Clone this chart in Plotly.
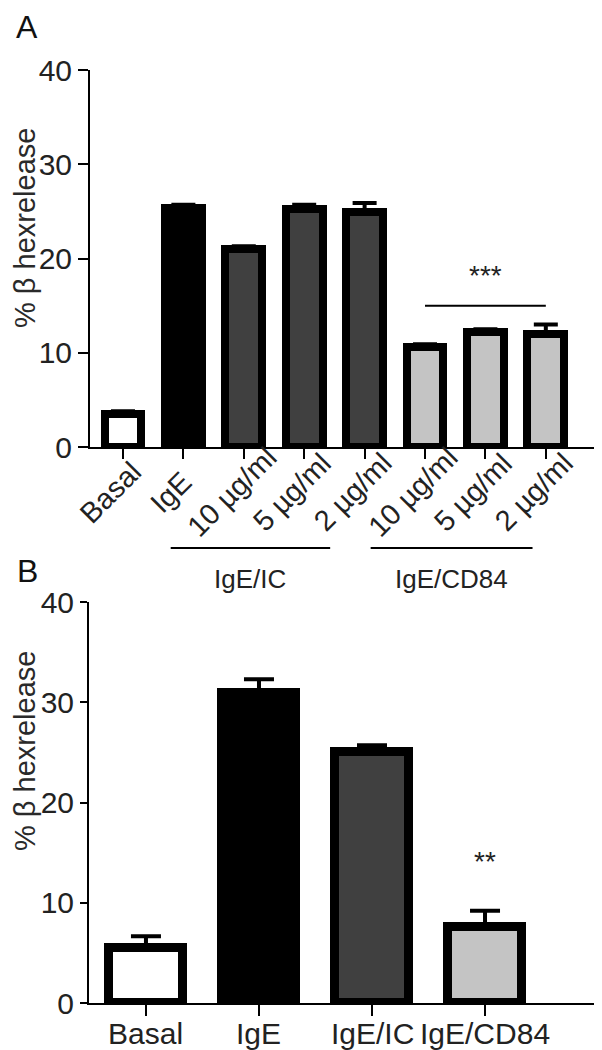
import plotly.graph_objects as go

# ---------------- data ----------------
a_labels = ["Basal", "IgE", "10 µg/ml", "5 µg/ml", "2 µg/ml", "10 µg/ml", "5 µg/ml", "2 µg/ml"]
a_values = [3.5, 25.4, 21.0, 25.2, 24.9, 10.6, 12.2, 12.0]
a_errors = [0.3, 0.3, 0.3, 0.5, 1.0, 0.3, 0.3, 1.0]
a_colors = ["#ffffff", "#000000", "#404040", "#404040", "#404040", "#c4c4c4", "#c4c4c4", "#c4c4c4"]
a_groups = ["IgE/IC", "IgE/CD84"]
a_group_members = [[2, 3, 4], [5, 6, 7]]

b_labels = ["Basal", "IgE", "IgE/IC", "IgE/CD84"]
b_values = [5.5, 30.9, 25.0, 7.6]
b_errors = [1.15, 1.4, 0.7, 1.6]
b_colors = ["#ffffff", "#000000", "#404040", "#c4c4c4"]

y_ticks = [0, 10, 20, 30, 40]
y_title = "% β hexrelease"

FONT = "Liberation Sans, Arial, sans-serif"
OFF = 8                      # page body margin
W, H = 602 - OFF, 1050 - OFF  # figure size


def px(x):   # reference x pixel -> paper fraction
    return (x - OFF) / W


def py(y):   # reference y pixel -> paper fraction
    return 1 - (y - OFF) / H


fig = go.Figure()

fig.add_trace(go.Bar(
    x=list(range(len(a_values))), y=a_values,
    marker=dict(color=a_colors, line=dict(color="black", width=8)),
    width=0.61,
    error_y=dict(type="data", array=a_errors, arrayminus=[0] * len(a_errors),
                 symmetric=False, color="black", thickness=4, width=12),
    xaxis="x", yaxis="y", showlegend=False, cliponaxis=False,
))

fig.add_trace(go.Bar(
    x=list(range(len(b_values))), y=b_values,
    marker=dict(color=b_colors, line=dict(color="black", width=9)),
    width=0.655,
    error_y=dict(type="data", array=b_errors, arrayminus=[0] * len(b_errors),
                 symmetric=False, color="black", thickness=4, width=15),
    xaxis="x2", yaxis="y2", showlegend=False, cliponaxis=False,
))

tickfont = dict(family=FONT, size=30, color="#222")

fig.update_layout(
    width=W, height=H,
    margin=dict(l=0, r=0, t=0, b=0, autoexpand=False),
    paper_bgcolor="white", plot_bgcolor="white",
    bargap=0,
    xaxis=dict(domain=[px(90), 1], range=[-0.546, 7.93],
               tickvals=list(range(len(a_labels))), showticklabels=False,
               showline=True, linecolor="black", linewidth=2,
               ticks="outside", ticklen=10, tickwidth=2, tickcolor="black",
               showgrid=False, zeroline=False, anchor="y", automargin=False),
    yaxis=dict(domain=[py(447), py(70)], range=[0, 40],
               tickvals=y_ticks, tickfont=tickfont,
               showline=True, linecolor="black", linewidth=2,
               ticks="outside", ticklen=10, tickwidth=2, tickcolor="black",
               showgrid=False, zeroline=False, anchor="x", automargin=False),
    xaxis2=dict(domain=[px(89), 1], range=[-0.504, 4.035],
                tickvals=list(range(len(b_labels))), showticklabels=False,
                showline=True, linecolor="black", linewidth=2,
                ticks="outside", ticklen=11, tickwidth=2, tickcolor="black",
                showgrid=False, zeroline=False, anchor="y2", automargin=False),
    yaxis2=dict(domain=[py(1003), py(602)], range=[0, 40],
                tickvals=y_ticks, tickfont=tickfont,
                showline=True, linecolor="black", linewidth=2,
                ticks="outside", ticklen=7, tickwidth=2, tickcolor="black",
                showgrid=False, zeroline=False, anchor="x2", automargin=False),
)

annotations = []
shapes = []

# Category labels, panel A (rotated, centred slightly left of each tick)
for i, lab in enumerate(a_labels):
    annotations.append(dict(text=lab, x=i - 0.2, y=py(492), xref="x", yref="paper",
                            textangle=-45, showarrow=False,
                            font=dict(family=FONT, size=29, color="#222"),
                            xanchor="center", yanchor="middle"))
# Category labels, panel B
for i, lab in enumerate(b_labels):
    annotations.append(dict(text=lab, x=i, y=py(1033), xref="x2", yref="paper",
                            showarrow=False,
                            font=dict(family=FONT, size=30, color="#222"),
                            xanchor="center", yanchor="middle"))

# Panel letters
annotations.append(dict(text="A", x=px(27), y=1, xref="paper", yref="paper",
                        showarrow=False, font=dict(family=FONT, size=32, color="#111"),
                        xanchor="center", yanchor="top", borderpad=0))
annotations.append(dict(text="B", x=px(27), y=py(571), xref="paper", yref="paper",
                        showarrow=False, font=dict(family=FONT, size=32, color="#111"),
                        xanchor="center", yanchor="middle"))

# Y axis titles
for yc in (228, 751):
    annotations.append(dict(text=y_title, x=px(25), y=py(yc), xref="paper", yref="paper",
                            textangle=-90, showarrow=False, borderpad=0,
                            font=dict(family=FONT, size=29, color="#2a2a2a"),
                            xanchor="center", yanchor="middle"))

# Group brackets under panel A
bracket_offsets = [(-1.21, 0.57), (-0.9, 0.22)]
line_y = py(548)
label_y = py(579)
for g, members, (lo, hi) in zip(a_groups, a_group_members, bracket_offsets):
    x0 = members[0] + lo
    x1 = members[-1] - hi
    shapes.append(dict(type="line", xref="x", yref="paper", x0=x0, x1=x1,
                       y0=line_y, y1=line_y, line=dict(color="black", width=2)))
    annotations.append(dict(text=g, x=(x0 + x1) / 2, y=label_y, xref="x", yref="paper",
                            showarrow=False, font=dict(family=FONT, size=26, color="#222"),
                            xanchor="center", yanchor="middle"))

# Significance in panel A
shapes.append(dict(type="line", xref="x", yref="y", x0=5, x1=7, y0=15, y1=15,
                   line=dict(color="black", width=2)))
annotations.append(dict(text="***", x=6, y=18.2, xref="x", yref="y", showarrow=False,
                        font=dict(family=FONT, size=28, color="#222"),
                        xanchor="center", yanchor="middle"))
# Significance in panel B
annotations.append(dict(text="**", x=3, y=14.1, xref="x2", yref="y2", showarrow=False,
                        font=dict(family=FONT, size=28, color="#222"),
                        xanchor="center", yanchor="middle"))

fig.update_layout(annotations=annotations, shapes=shapes)

fig.write_html("out.html")
